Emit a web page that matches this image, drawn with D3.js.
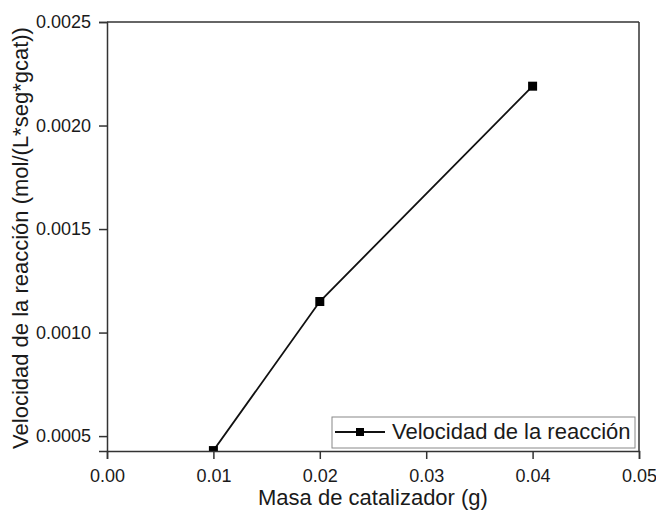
<!DOCTYPE html>
<html>
<head>
<meta charset="utf-8">
<script src="https://cdn.jsdelivr.net/npm/d3@7"></script>
<style>
  body { margin: 0; background: #fff; }
  text { font-family: "Liberation Sans", Arial, sans-serif; fill: #1a1a1a; }
</style>
</head>
<body>
<div id="main"></div>
<script>
const Width = 656, Height = 517;

// data
const masa = [0.01, 0.02, 0.04];
const velocidad = [0.00043, 0.00115, 0.00219];
const xTicks = [0.00, 0.01, 0.02, 0.03, 0.04, 0.05];
const yTicks = [0.0005, 0.0010, 0.0015, 0.0020, 0.0025];
const serieNombre = "Velocidad de la reacción";

const margin = {left: 107, top: 22, right: 17, bottom: 66};

const svg = d3.select("#main")
    .append("svg")
    .attr("width", Width)
    .attr("height", Height);

let Xscale = d3.scaleLinear().domain([0, 0.05]).range([margin.left, Width - margin.right]);
let Yscale = d3.scaleLinear().domain([0.000428, 0.0025]).range([Height - margin.bottom, margin.top]);

// clip for the data
svg.append("clipPath").attr("id", "clip")
    .append("rect")
    .attr("x", margin.left).attr("y", margin.top)
    .attr("width", Width - margin.left - margin.right)
    .attr("height", Height - margin.top - margin.bottom);

const plot = svg.append("g").attr("clip-path", "url(#clip)");

const line = d3.line().x((d, i) => Xscale(masa[i])).y(d => Yscale(d));
plot.append("path")
    .datum(velocidad)
    .attr("d", line)
    .attr("fill", "none")
    .attr("stroke", "#111")
    .attr("stroke-width", 1.8);

plot.selectAll("rect.pt").data(velocidad).enter().append("rect")
    .attr("class", "pt")
    .attr("x", (d, i) => Xscale(masa[i]) - 4.5)
    .attr("y", d => Yscale(d) - 4.5)
    .attr("width", 9).attr("height", 9)
    .attr("fill", "#000");

// frame
svg.append("line")
    .attr("x1", margin.left).attr("x2", Width - margin.right)
    .attr("y1", margin.top).attr("y2", margin.top)
    .attr("stroke", "#333").attr("stroke-width", 1.5);
svg.append("line")
    .attr("x1", Width - margin.right).attr("x2", Width - margin.right)
    .attr("y1", margin.top).attr("y2", Height - margin.bottom)
    .attr("stroke", "#333").attr("stroke-width", 1.5);

// axes
const xAxis = svg.append("g")
    .attr("transform", `translate(0, ${Height - margin.bottom})`)
    .call(d3.axisBottom(Xscale).tickValues(xTicks).tickFormat(d3.format(".2f")).tickSize(8).tickPadding(10));
const yAxis = svg.append("g")
    .attr("transform", `translate(${margin.left},0)`)
    .call(d3.axisLeft(Yscale).tickValues(yTicks).tickFormat(d3.format(".4f")).tickSize(8).tickPadding(8));

[xAxis, yAxis].forEach(a => {
    a.select(".domain").attr("stroke", "#333").attr("stroke-width", 1.5);
    a.selectAll(".tick line").attr("stroke", "#333").attr("stroke-width", 1.5);
    a.selectAll(".tick text").style("font-size", "18px").attr("fill", "#1a1a1a")
        .style("font-family", "'Liberation Sans', Arial, sans-serif");
});

// axis titles
svg.append("text")
    .attr("x", (margin.left + Width - margin.right) / 2)
    .attr("y", 505)
    .attr("text-anchor", "middle")
    .style("font-size", "22px")
    .text("Masa de catalizador (g)");

svg.append("text")
    .attr("transform", `translate(28, 238) rotate(-90)`)
    .attr("text-anchor", "middle")
    .style("font-size", "22px")
    .text("Velocidad de la reacción (mol/(L*seg*gcat))");

// legend
const leg = svg.append("g");
leg.append("rect")
    .attr("x", 332).attr("y", 417)
    .attr("width", 303).attr("height", 31)
    .attr("fill", "#fff")
    .attr("stroke", "#888").attr("stroke-width", 1);
leg.append("line")
    .attr("x1", 335).attr("x2", 385)
    .attr("y1", 432).attr("y2", 432)
    .attr("stroke", "#111").attr("stroke-width", 2);
leg.append("rect")
    .attr("x", 356).attr("y", 428)
    .attr("width", 8).attr("height", 8)
    .attr("fill", "#000");
leg.append("text")
    .attr("x", 392).attr("y", 439)
    .style("font-size", "22px")
    .text(serieNombre);
</script>
</body>
</html>
